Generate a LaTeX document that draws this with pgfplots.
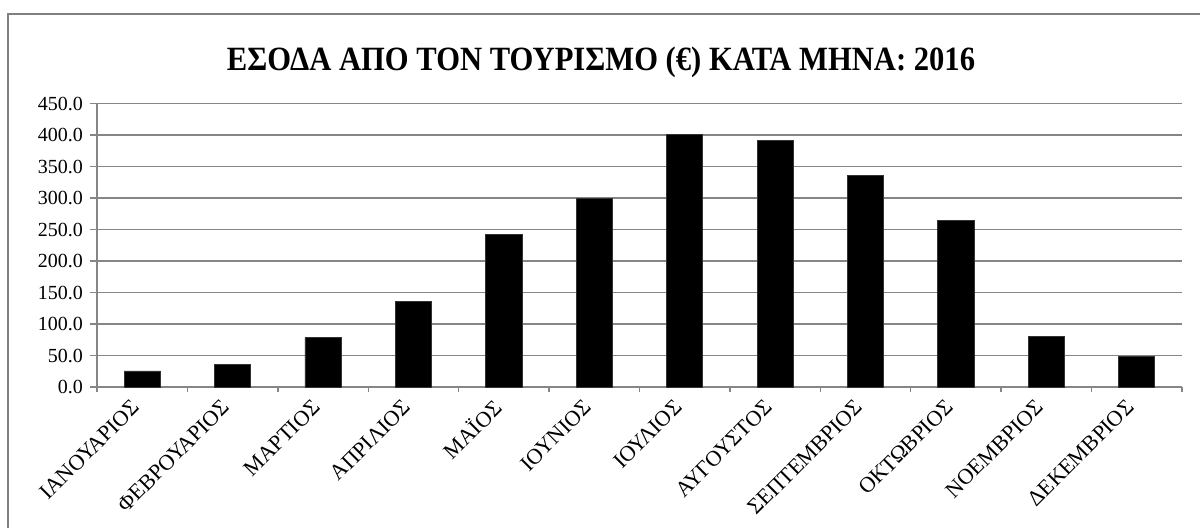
\documentclass[border=0pt]{standalone}
\usepackage{fontspec}
\setmainfont{Liberation Serif}
\newfontfamily\titlefont[FakeStretch=0.9]{Liberation Serif}
\usepackage{pgfplots}
\pgfplotsset{compat=1.18}
\definecolor{axgray}{RGB}{134,134,134}
\definecolor{framegray}{RGB}{128,128,128}
\begin{document}
\begin{tikzpicture}
\useasboundingbox (-48.5pt,-70pt) rectangle (551.5pt,193.5pt);
\clip (-48.5pt,-70pt) rectangle (551.5pt,193.5pt);
\draw[framegray, line width=0.75pt] (-44.5pt,-90pt) rectangle (570pt,186.5pt);
\begin{axis}[
  scale only axis,
  width=542.5pt, height=141.75pt,
  xmin=-0.5, xmax=11.5,
  ymin=0, ymax=450,
  ybar, bar width=0.4,
  axis x line*=bottom, axis y line*=left,
  axis line style={axgray, line width=0.7pt},
  ytick={0,50,...,450},
  ymajorgrids,
  grid style={axgray, line width=0.7pt},
  tick align=outside,
  major tick length=3.5pt,
  ytick style={axgray, line width=0.7pt},
  xtick={0,...,11},
  xtick style={draw=none},
  xticklabels={ΙΑΝΟΥΑΡΙΟΣ,ΦΕΒΡΟΥΑΡΙΟΣ,ΜΑΡΤΙΟΣ,ΑΠΡΙΛΙΟΣ,ΜΑΪΟΣ,ΙΟΥΝΙΟΣ,ΙΟΥΛΙΟΣ,ΑΥΓΟΥΣΤΟΣ,ΣΕΠΤΕΜΒΡΙΟΣ,ΟΚΤΩΒΡΙΟΣ,ΝΟΕΜΒΡΙΟΣ,ΔΕΚΕΜΒΡΙΟΣ},
  xticklabel style={font=\fontsize{11}{13}\selectfont, inner sep=1pt, xshift=-2.5pt, yshift=-4pt, rotate=45, anchor=east},
  extra x ticks={-0.5,0.5,...,11.5},
  extra x tick labels={},
  extra x tick style={grid=none, major tick length=2.5pt, xtick style={draw=axgray, line width=0.7pt}},
  yticklabel style={font=\fontsize{10}{12}\selectfont},
  /pgf/number format/assume math mode=true,
  yticklabel={\pgfmathprintnumber[fixed,fixed zerofill,precision=1]{\tick}},
  clip=false,
]
\addplot[fill=black, draw=black!80] coordinates {
  (0,25.5) (1,35.2) (2,78.0) (3,135.2) (4,242.3) (5,299.6)
  (6,401.5) (7,391.5) (8,336.0) (9,264.0) (10,80.7) (11,48.3)
};
\end{axis}
\node[font=\titlefont\bfseries\fontsize{17}{20}\selectfont] at (252pt,162.5pt) {ΕΣΟΔΑ ΑΠΟ ΤΟΝ ΤΟΥΡΙΣΜΟ (€) ΚΑΤΑ ΜΗΝΑ: 2016};
\end{tikzpicture}
\end{document}
